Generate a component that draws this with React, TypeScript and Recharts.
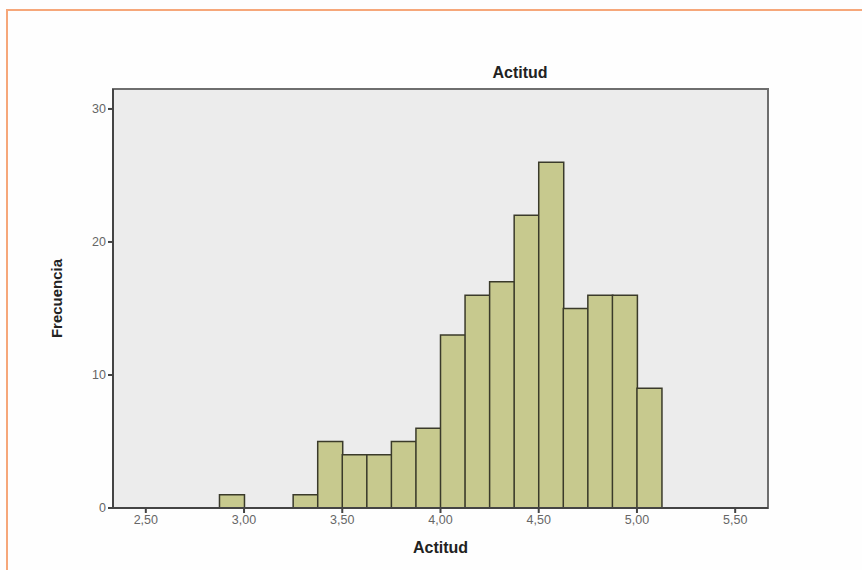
import React from 'react'
import { BarChart, Bar, XAxis, YAxis, ReferenceArea } from 'recharts'

// bin centres (width 0.125) and counts
const binCenters = [
  2.9375, 3.0625, 3.1875, 3.3125, 3.4375, 3.5625, 3.6875, 3.8125, 3.9375,
  4.0625, 4.1875, 4.3125, 4.4375, 4.5625, 4.6875, 4.8125, 4.9375, 5.0625,
]
const counts = [1, 0, 0, 1, 5, 4, 4, 5, 6, 13, 16, 17, 22, 26, 15, 16, 16, 9]

const xTicks = [2.5, 3.0, 3.5, 4.0, 4.5, 5.0, 5.5]
const yTicks = [0, 10, 20, 30]
const xDomain = [2.333, 5.667]
const yDomain = [0, 31.5]

const data = binCenters.map((x, i) => ({ x, count: counts[i] }))

const font = '"Liberation Sans", Arial, sans-serif'

const YLabel = ({ viewBox }: any) => {
  const cy = viewBox.y + viewBox.height / 2
  return (
    <text
      x={56}
      y={cy}
      transform={`rotate(-90, 56, ${cy}) scale(1, 1)`}
      textAnchor="middle"
      dominantBaseline="central"
      fontFamily='"Liberation Sans Narrow", "Liberation Sans", sans-serif'
      fontWeight="bold"
      fontSize={15}
      fill="#222"
    >
      Frecuencia
    </text>
  )
}

const App: React.FC = () => {
  return (
    <div style={{ position: 'absolute', left: 0, top: 0, width: 862, height: 570, background: '#fefefe' }}>
      <div
        style={{
          position: 'absolute',
          left: 6,
          top: 9,
          right: 0,
          bottom: 0,
          borderTop: '2px solid #f6a77a',
          borderLeft: '2px solid #f6a77a',
        }}
      />
      <div
        style={{
          position: 'absolute',
          left: 420,
          top: 64,
          width: 200,
          textAlign: 'center',
          fontFamily: font,
          fontWeight: 'bold',
          fontSize: 16,
          color: '#222',
        }}
      >
        Actitud
      </div>
      <div style={{ position: 'absolute', left: 0, top: 0 }}>
        <BarChart
          width={862}
          height={570}
          data={data}
          margin={{ top: 89, right: 94, bottom: 12, left: 50 }}
          barCategoryGap={0}
          barGap={0}
        >
          <ReferenceArea
            x1={xDomain[0]}
            x2={xDomain[1]}
            y1={yDomain[0]}
            y2={yDomain[1]}
            fill="#ececec"
            fillOpacity={1}
            stroke="#6e6e6e"
            strokeWidth={2}
            ifOverflow="visible"
          />
          <XAxis
            dataKey="x"
            type="number"
            domain={xDomain}
            ticks={xTicks}
            allowDataOverflow
            tickFormatter={(v: number) => v.toFixed(2).replace('.', ',')}
            height={50}
            stroke="#444"
            strokeWidth={2}
            tickSize={5}
            tick={{ fill: '#666', fontSize: 12.5, fontFamily: font }}
            label={{
              value: 'Actitud',
              position: 'insideBottom',
              offset: 5,
              fill: '#222',
              fontSize: 16,
              fontWeight: 'bold',
              fontFamily: font,
            }}
          />
          <YAxis
            type="number"
            domain={yDomain}
            ticks={yTicks}
            allowDataOverflow
            width={63}
            stroke="#444"
            strokeWidth={2}
            tickSize={5}
            tick={{ fill: '#666', fontSize: 12.5, fontFamily: font }}
            label={<YLabel />}
          />
          <Bar
            dataKey="count"
            fill="#c7c98e"
            stroke="#3a3a2a"
            strokeWidth={1.5}
            isAnimationActive={false}
          />
        </BarChart>
      </div>
    </div>
  )
}

export default App
